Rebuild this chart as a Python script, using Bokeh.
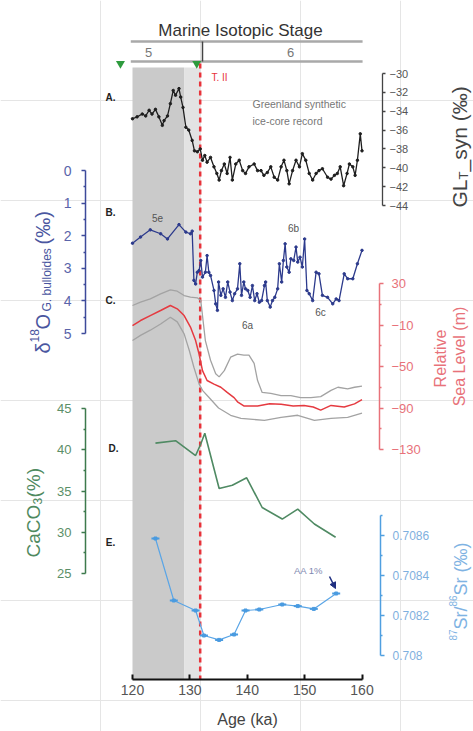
from math import pi
from bokeh.plotting import figure
from bokeh.models import Range1d, LinearAxis, FixedTicker, Label, Arrow, NormalHead
from bokeh.embed import file_html
from bokeh.resources import INLINE

FONT = "Liberation Sans"

# ------------------------------------------------------------------ data
age_ticks = [120, 130, 140, 150, 160]
gl_ticks = [-44, -42, -40, -38, -36, -34, -32, -30]
d18o_ticks = [0, 1, 2, 3, 4, 5]
d18o_minor = [0.5, 1.5, 2.5, 3.5, 4.5]
sl_ticks = [30, -10, -50, -90, -130]
sl_minor = [10, -30, -70, -110]
caco3_ticks = [25, 30, 35, 40, 45]
caco3_minor = [27.5, 32.5, 37.5, 42.5]
sr_ticks = [0.708, 0.7082, 0.7084, 0.7086]
sr_minor = [0.7081, 0.7083, 0.7085, 0.7087]
sr_tick_labels = {0.708: "0.708", 0.7082: "0.7082", 0.7084: "0.7084", 0.7086: "0.7086"}

mis5e_end = 129.0          # end of dark grey band (ka)
termination_ii = 131.8     # T. II (ka)
mis_boundary = 132.2       # MIS 5 / 6 boundary (ka)
marker_ages = [117.9, 131.2]

gl_pairs = [(120.0, -34.8), (120.8, -34.6), (121.7, -34.3), (122.3, -34.5), (122.9, -33.9),
            (123.4, -34.3), (124.0, -33.8), (124.6, -34.6), (125.2, -35.5), (125.5, -35.0),
            (126.1, -34.5), (126.6, -33.2), (127.1, -31.8), (127.5, -32.3), (128.1, -31.6),
            (128.4, -32.5), (128.8, -33.6), (129.3, -35.7), (129.8, -36.0), (130.4, -37.1),
            (130.8, -38.2), (131.3, -38.3), (131.8, -38.0), (132.2, -39.2), (132.6, -38.7),
            (133.0, -39.4), (133.6, -38.9), (134.2, -39.9), (134.7, -40.6), (135.1, -41.3),
            (135.5, -40.3), (136.0, -39.6), (136.5, -40.6), (137.0, -38.9), (137.4, -41.3),
            (138.0, -39.6), (138.6, -39.2), (139.2, -40.3), (139.7, -40.6), (140.3, -39.9),
            (141.2, -39.6), (141.8, -40.3), (142.4, -40.3), (142.9, -40.8), (143.5, -40.5),
            (144.1, -39.9), (144.7, -41.0), (145.3, -41.3), (145.9, -39.9), (146.4, -39.2),
            (146.9, -40.3), (147.3, -41.7), (147.9, -40.3), (148.5, -39.2), (149.1, -39.9),
            (149.6, -38.5), (150.2, -39.2), (150.8, -40.6), (151.4, -41.3), (152.0, -40.6),
            (152.5, -40.3), (153.1, -40.1), (154.0, -41.0), (154.6, -41.2), (155.2, -40.8),
            (155.7, -40.6), (156.2, -39.9), (156.8, -41.9), (157.4, -40.6), (157.8, -39.6),
            (158.4, -39.9), (158.8, -40.8), (159.2, -39.2), (159.7, -36.4), (160.0, -38.2)]
gl_age = [a for a, _ in gl_pairs]
gl_val = [v for _, v in gl_pairs]

d18o_pairs = [(120.0, 2.23), (121.4, 2.04), (123.1, 1.82), (124.9, 1.94), (126.1, 2.10),
              (128.1, 1.66), (129.3, 1.89), (130.1, 1.94), (130.4, 1.86), (130.7, 3.37),
              (131.0, 3.48), (131.3, 3.12), (131.6, 3.07), (131.9, 2.76), (132.2, 3.27),
              (132.7, 3.12), (133.0, 2.61), (133.3, 3.12), (133.6, 3.22), (134.2, 3.68),
              (134.5, 4.09), (134.8, 4.29), (135.0, 3.42), (135.4, 3.83), (135.8, 3.63),
              (136.2, 3.89), (136.6, 3.42), (137.0, 3.73), (137.4, 3.99), (137.8, 3.78),
              (138.3, 3.63), (138.7, 2.86), (139.0, 3.83), (139.4, 3.42), (139.7, 3.63),
              (140.1, 3.68), (140.5, 3.89), (140.9, 3.53), (141.3, 3.99), (141.7, 3.78),
              (142.1, 4.04), (142.5, 3.99), (143.0, 3.53), (143.2, 3.42), (143.5, 3.99),
              (144.0, 4.19), (144.4, 3.99), (144.8, 3.89), (145.3, 3.63), (145.6, 2.86),
              (146.0, 3.42), (146.3, 2.76), (146.6, 2.25), (146.9, 2.96), (147.3, 3.12),
              (147.6, 2.71), (148.1, 2.76), (148.5, 2.35), (148.8, 2.81), (149.2, 2.66),
              (149.6, 2.96), (150.0, 2.10), (150.4, 3.68), (150.8, 3.78), (151.4, 3.99),
              (152.0, 3.12), (152.5, 3.17), (153.1, 3.83), (154.0, 3.89), (154.9, 4.09),
              (155.5, 3.94), (156.0, 3.99), (156.9, 3.17), (157.5, 3.32), (158.4, 3.32),
              (159.2, 2.86), (160.0, 2.45)]
d18o_age = [a for a, _ in d18o_pairs]
d18o_val = [v for _, v in d18o_pairs]

sl_upper_pairs = [(120.0, 8.8), (121.4, 12.0), (123.1, 15.2), (124.9, 20.0), (126.6, 23.9),
                  (127.8, 22.6), (129.0, 18.4), (130.1, 16.8), (131.3, 16.2), (131.9, 13.6),
                  (132.7, -25), (133.6, -44), (134.5, -57), (135.1, -60), (136.0, -54),
                  (137.1, -41), (138.3, -38), (139.4, -39), (140.3, -39), (141.2, -47),
                  (141.8, -63.5), (142.6, -75), (144.1, -76), (145.9, -78), (147.6, -78),
                  (149.3, -80), (151.1, -80), (152.8, -79), (154.6, -73), (155.8, -70),
                  (157.5, -71.5), (158.7, -70), (160.0, -69)]
sl_mid_pairs = [(120.0, -10.5), (121.4, -5.7), (123.1, -0.9), (124.9, 4.0), (126.6, 8.8),
                (127.8, 5.6), (129.0, -0.9), (130.1, -12), (131.0, -25), (131.6, -38),
                (132.2, -54), (133.0, -63.5), (134.2, -67), (135.4, -70), (136.5, -75),
                (137.7, -80), (138.3, -84), (139.4, -88), (141.8, -88), (143.9, -86),
                (145.9, -86.5), (148.0, -88), (149.9, -87.5), (151.5, -89), (152.8, -92),
                (154.6, -87.5), (156.9, -89), (158.7, -86), (160.0, -82)]
sl_lower_pairs = [(120.0, -25), (121.4, -20), (123.1, -15), (124.9, -9), (126.6, -2.5),
                  (127.8, -7), (129.0, -18.5), (129.9, -34.6), (130.7, -50.7), (131.6, -66.7),
                  (132.2, -73), (133.3, -79.6), (135.0, -90), (137.1, -97), (138.9, -100),
                  (141.0, -101), (143.0, -102), (145.9, -99), (148.8, -97), (151.7, -102),
                  (154.6, -100), (157.5, -99), (160.0, -95)]

caco3_pairs = [(124.0, 40.8), (127.5, 41.1), (131.0, 39.3), (131.9, 40.7), (132.6, 42.0),
               (135.1, 35.3), (137.4, 35.7), (139.9, 36.6), (142.6, 33.0), (146.1, 31.6),
               (148.8, 32.8), (151.7, 31.0), (155.4, 29.4)]
caco3_age = [a for a, _ in caco3_pairs]
caco3_val = [v for _, v in caco3_pairs]

sr_pairs = [(124.0, 0.708585), (127.2, 0.708275), (131.0, 0.708225), (132.45, 0.708100),
            (135.1, 0.708078), (137.7, 0.708105), (139.7, 0.708225), (142.1, 0.708230),
            (146.1, 0.708255), (148.8, 0.708247), (151.6, 0.708233), (155.5, 0.708310)]
sr_age = [a for a, _ in sr_pairs]
sr_val = [v for _, v in sr_pairs]

# ------------------------------------------------------------------ layout
W, H = 473, 731
LEFT, RIGHT, TOP, BOTTOM = 0, W, 0, H   # picture pixel frame


def span_range(v1, p1, v2, p2, p_start, p_end):
    k = (v2 - v1) / (p2 - p1)
    return Range1d(start=v1 + (p_start - p1) * k, end=v1 + (p_end - p1) * k)


p = figure(width=W, height=H, x_range=Range1d(LEFT, RIGHT), y_range=Range1d(BOTTOM, TOP),
           x_axis_location=None, y_axis_location=None, toolbar_location=None,
           output_backend="svg", min_border=0, outline_line_color=None)
p.title.visible = False
p.background_fill_color = "white"
p.border_fill_color = "white"

p.extra_x_ranges = {"age": span_range(120, 132, 160, 361.5, LEFT, RIGHT)}
p.extra_y_ranges = {
    "gl": span_range(-30, 73, -44, 205, BOTTOM, TOP),
    "d18o": span_range(0, 170, 5, 333, BOTTOM, TOP),
    "sl": span_range(30, 283, -130, 449, BOTTOM, TOP),
    "caco3": span_range(45, 408, 25, 573, BOTTOM, TOP),
    "sr": span_range(0.7086, 535, 0.708, 655, BOTTOM, TOP),
}

# background bands
p.quad(left=[120], right=[mis5e_end], top=[67], bottom=[679], x_range_name="age",
       fill_color="#cacaca", line_color=None)
p.quad(left=[mis5e_end], right=[termination_ii], top=[67], bottom=[679], x_range_name="age",
       fill_color="#e3e3e3", line_color=None)

# MIS header
p.segment(x0=[119.7, 119.7], y0=[41, 61], x1=[160.1, 160.1], y1=[41, 61], x_range_name="age",
          line_color="#a9a9a9", line_width=2.5)
p.segment(x0=[mis_boundary], y0=[41], x1=[mis_boundary], y1=[61], x_range_name="age",
          line_color="#444444", line_width=1.5)
p.scatter(x=marker_ages, y=[63, 63], x_range_name="age", marker="inverted_triangle",
          size=9, fill_color="#2e9b3e", line_color=None)

# T. II
p.segment(x0=[termination_ii], y0=[63], x1=[termination_ii], y1=[679], x_range_name="age",
          line_color="#e8333a", line_width=2.5, line_dash="5 4")

# series
p.line(gl_age, gl_val, x_range_name="age", y_range_name="gl", line_color="#1e1e1e", line_width=1.3)
p.scatter(gl_age, gl_val, x_range_name="age", y_range_name="gl", size=2.5, color="#1e1e1e")

p.line(d18o_age, d18o_val, x_range_name="age", y_range_name="d18o", line_color="#2c3a8c", line_width=1.3)
p.scatter(d18o_age, d18o_val, x_range_name="age", y_range_name="d18o", size=2.5, color="#2c3a8c")

for pairs, col, lw in [(sl_upper_pairs, "#a3a3a3", 1.3), (sl_lower_pairs, "#a3a3a3", 1.3),
                       (sl_mid_pairs, "#e53a40", 1.5)]:
    p.line([a for a, _ in pairs], [v for _, v in pairs], x_range_name="age", y_range_name="sl",
           line_color=col, line_width=lw)

p.line(caco3_age, caco3_val, x_range_name="age", y_range_name="caco3", line_color="#4f8a63", line_width=1.6)

p.line(sr_age, sr_val, x_range_name="age", y_range_name="sr", line_color="#5aa5e6", line_width=1.2)
p.scatter(sr_age, sr_val, x_range_name="age", y_range_name="sr", marker="dash", size=8,
          line_color="#4a9be0", line_width=2)
p.scatter(sr_age, sr_val, x_range_name="age", y_range_name="sr", marker="square", size=3,
          color="#4a9be0")


# axes
def style_axis(ax, color, label_color, size, standoff, out=4, minor_out=2, lw=1.5):
    ax.axis_line_color = color
    ax.axis_line_width = lw
    ax.major_tick_line_color = color
    ax.major_tick_line_width = lw
    ax.major_tick_out = out
    ax.major_tick_in = 0
    ax.minor_tick_line_color = color
    ax.minor_tick_line_width = lw
    ax.minor_tick_out = minor_out
    ax.minor_tick_in = 0
    ax.major_label_text_color = label_color
    ax.major_label_text_font = FONT
    ax.major_label_text_font_size = size
    ax.major_label_standoff = standoff


xa = LinearAxis(x_range_name="age", fixed_location=679, bounds=(120, 160),
                ticker=FixedTicker(ticks=age_ticks))
style_axis(xa, "#111111", "#555555", "14px", 5, out=0, lw=2)
xa.major_tick_in = 5
p.add_layout(xa, "below")

ga = LinearAxis(y_range_name="gl", fixed_location=382, bounds=(-44, -30),
                ticker=FixedTicker(ticks=gl_ticks))
style_axis(ga, "#444444", "#555555", "11px", 4, out=3, lw=1.3)
p.add_layout(ga, "right")

da = LinearAxis(y_range_name="d18o", fixed_location=85, bounds=(0, 5),
                ticker=FixedTicker(ticks=d18o_ticks, minor_ticks=d18o_minor))
style_axis(da, "#3d4a9a", "#5a64aa", "14px", 10)
p.add_layout(da, "left")

sa = LinearAxis(y_range_name="sl", fixed_location=379, bounds=(-130, 30),
                ticker=FixedTicker(ticks=sl_ticks, minor_ticks=sl_minor))
style_axis(sa, "#e8727a", "#e8727a", "13px", 8)
p.add_layout(sa, "right")

ca = LinearAxis(y_range_name="caco3", fixed_location=85, bounds=(25, 45),
                ticker=FixedTicker(ticks=caco3_ticks, minor_ticks=caco3_minor))
style_axis(ca, "#3d7a4d", "#5c8f68", "13px", 10)
p.add_layout(ca, "left")

ra = LinearAxis(y_range_name="sr", fixed_location=380, bounds=(0.708, 0.7087),
                ticker=FixedTicker(ticks=sr_ticks, minor_ticks=sr_minor),
                major_label_overrides=sr_tick_labels)
style_axis(ra, "#4f9fe0", "#7fb0de", "12px", 8)
p.add_layout(ra, "right")


# texts
def txt(x, y, s, size, color, align="center", baseline="middle", angle=0.0, style="normal"):
    p.add_layout(Label(x=x, y=y, text=s, text_font=FONT, text_font_size=size, text_color=color,
                       text_align=align, text_baseline=baseline, angle=angle,
                       text_font_style=style))


txt(240, 30, "Marine Isotopic Stage", "17px", "#333333")
txt(148, 52, "5", "13px", "#777777")
txt(290, 52, "6", "13px", "#777777")
txt(211, 77, "T. II", "10px", "#e8333a", align="left")
for lx, ly, s in [(110, 97, "A."), (110, 212, "B."), (110, 300, "C."), (113, 448, "D."), (110, 542, "E.")]:
    txt(lx, ly, s, "10px", "#222222", style="bold")
txt(252, 103, "Greenland synthetic", "10.5px", "#777777", align="left")
txt(252, 120, "ice-core record", "10.5px", "#777777", align="left")
for lx, ly, s in [(157, 217, "5e"), (247, 325, "6a"), (293, 228, "6b"), (320, 312, "6c")]:
    txt(lx, ly, s, "10px", "#555555")
txt(308, 570, "AA 1%", "9.5px", "#8088b0")
txt(247, 719, "Age (ka)", "16px", "#444444")

p.add_layout(Arrow(end=NormalHead(size=6, fill_color="#1f2f80", line_color="#1f2f80"),
                   x_start=329, y_start=576, x_end=335, y_end=588,
                   line_color="#1f2f80", line_width=1.5))

R = pi / 2
# GL_T_syn title
txt(459, 207, "GL", "21px", "#444444", align="left", baseline="alphabetic", angle=R)
txt(463, 179, "T", "13px", "#444444", align="left", baseline="alphabetic", angle=R)
txt(459, 171, "_syn (‰)", "21px", "#444444", align="left", baseline="alphabetic", angle=R)
# d18O title
dc = "#4a56a0"
txt(42, 353, "δ", "20px", dc, align="left", baseline="alphabetic", angle=R)
txt(34, 342, "18", "12px", dc, align="left", baseline="alphabetic", angle=R)
txt(42, 329, "O", "20px", dc, align="left", baseline="alphabetic", angle=R)
txt(46, 311, "G. bulloides", "12px", dc, align="left", baseline="alphabetic", angle=R)
txt(42, 244, "(‰)", "20px", dc, align="left", baseline="alphabetic", angle=R)
# sea level title
txt(440, 358, "Relative", "16px", "#e8727a", baseline="alphabetic", angle=R)
txt(459, 356, "Sea Level (m)", "16px", "#e8727a", baseline="alphabetic", angle=R)
# CaCO3 title
cc = "#4f8a5f"
txt(33, 557, "CaCO", "19px", cc, align="left", baseline="alphabetic", angle=R)
txt(37, 504, "3", "12px", cc, align="left", baseline="alphabetic", angle=R)
txt(33, 497, "(%)", "19px", cc, align="left", baseline="alphabetic", angle=R)
# Sr title
sc = "#7fb3e3"
txt(452, 640, "87", "10px", sc, align="left", baseline="alphabetic", angle=R)
txt(460, 629, "Sr/", "18px", sc, align="left", baseline="alphabetic", angle=R)
txt(452, 606, "86", "10px", sc, align="left", baseline="alphabetic", angle=R)
txt(460, 595, "Sr (‰)", "18px", sc, align="left", baseline="alphabetic", angle=R)

open("out.html", "w").write(file_html(p, INLINE))
